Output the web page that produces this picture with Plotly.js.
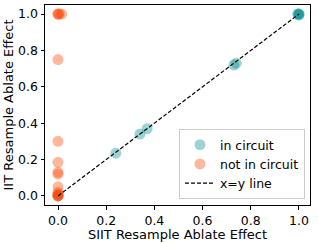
<!DOCTYPE html>
<html><head><meta charset="utf-8">
<script src="https://cdn.plot.ly/plotly-3.0.1.min.js"></script>
<style>html,body{margin:0;padding:0;background:#fff}#chart{width:318px;height:243px}</style>
</head><body><div id="chart"></div>
<script>
// in circuit (SIIT effect, IIT effect)
const inX = [0.0, 0.24, 0.34, 0.37, 0.73, 0.74, 1.0, 1.0, 0.995, 1.0];
const inY = [0.0, 0.235, 0.34, 0.37, 0.72, 0.73, 1.0, 0.995, 1.0, 1.0];
// not in circuit
const outX = [0.0, 0.0, 0.005, 0.015, 0.0, 0.0, 0.0, 0.0, 0.0, 0.0, 0.0, 0.0, 0.0, 0.0, 0.0];
const outY = [1.0, 1.0, 1.0, 1.0, 0.75, 0.30, 0.185, 0.13, 0.12, 0.05, 0.02, 0.0, 0.0, 0.005, 0.01];
const lineX = [0, 1];
const lineY = [0, 1];

const font = 'DejaVu Sans, sans-serif';
const data = [
  {x: inX, y: inY, type: 'scatter', mode: 'markers', name: 'in circuit',
   marker: {color: 'rgba(0,139,139,0.38)', size: 11, line: {width: 0}}},
  {x: outX, y: outY, type: 'scatter', mode: 'markers', name: 'not in circuit',
   marker: {color: 'rgba(255,69,0,0.38)', size: 11, line: {width: 0}}},
  {x: lineX, y: lineY, type: 'scatter', mode: 'lines', name: 'x=y line',
   line: {color: 'black', dash: '4px,2px', width: 1.2}}
];
const axisCommon = {
  showgrid: false, zeroline: false, showline: true, mirror: true,
  linecolor: 'black', linewidth: 1, ticks: 'outside', ticklen: 3.5,
  tickcolor: 'black', tickfont: {family: font, size: 12.5, color: 'black'},
  tickvals: [0, 0.2, 0.4, 0.6, 0.8, 1.0],
  ticktext: ['0.0', '0.2', '0.4', '0.6', '0.8', '1.0']
};
const layout = {
  width: 318, height: 243,
  margin: {l: 45, r: 8, t: 5, b: 38},
  paper_bgcolor: 'white', plot_bgcolor: 'white',
  showlegend: true,
  xaxis: Object.assign({}, axisCommon, {range: [-0.054, 1.046],
    title: {text: 'SIIT Resample Ablate Effect', font: {family: font, size: 13, color: 'black'}, standoff: 0}}),
  yaxis: Object.assign({}, axisCommon, {range: [-0.05, 1.05],
    title: {text: 'IIT Resample Ablate Effect', font: {family: font, size: 13, color: 'black'}, standoff: 1}}),
  legend: {x: 0.981, y: 0.03, xanchor: 'right', yanchor: 'bottom',
    bgcolor: 'rgba(255,255,255,0.8)', bordercolor: '#cccccc', borderwidth: 1,
    font: {family: font, size: 12.5, color: 'black'}, tracegroupgap: 0, itemwidth: 30}
};
Plotly.newPlot('chart', data, layout, {staticPlot: true, displayModeBar: false});
</script>
</body></html>
